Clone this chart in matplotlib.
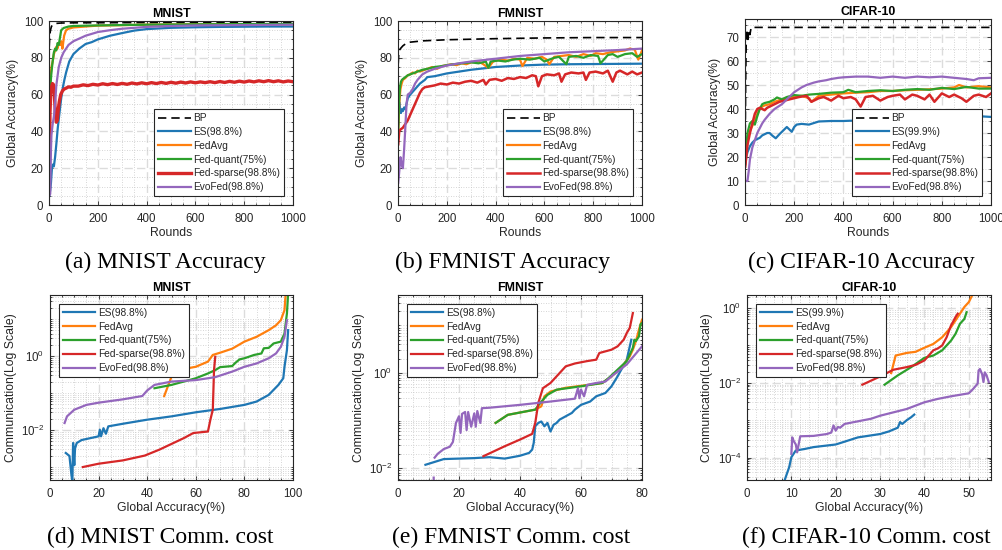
import matplotlib
matplotlib.use("Agg")
import matplotlib.pyplot as plt
import numpy as np
from matplotlib.ticker import MultipleLocator, AutoMinorLocator, FixedLocator, LogLocator, NullFormatter

plt.rcParams["font.family"] = ["Liberation Sans", "DejaVu Sans"]
plt.rcParams["font.size"] = 8.8
plt.rcParams["mathtext.default"] = "regular"

C_ES, C_AVG, C_QUANT, C_SPARSE, C_EVO = "#1f77b4", "#ff7f0e", "#2ca02c", "#d62728", "#9467bd"
TXT = "#262626"

# ---------------- (a) MNIST accuracy vs rounds ----------------
mn_bp_r = [1, 3, 6, 10, 15, 20, 30, 50, 100, 300, 1000]
mn_bp = [86, 92, 95, 97, 98, 98.4, 98.7, 98.9, 99.0, 99.1, 99.2]
mn_es_r = [1, 5, 8, 12, 16, 20, 25, 30, 36, 42, 50, 57, 63, 70, 83, 100, 124, 150, 175, 200,
           250, 302, 350, 400, 500, 600, 700, 800, 900, 1000]
mn_es = [5, 8, 12, 20, 22, 21, 26, 33, 42, 49, 58, 64, 68, 72, 78, 82, 85, 87.5, 88.5, 90,
         92, 93.5, 94.8, 95.6, 96.3, 96.6, 96.8, 96.9, 97.0, 97.0]
mn_avg_r = [1, 3, 6, 10, 15, 20, 25, 30, 35, 40, 45, 50, 55, 58, 62, 70, 80, 100, 150, 200,
            400, 600, 800, 1000]
mn_avg = [40, 55, 68, 75, 78, 82, 84, 86, 85, 88, 87, 89, 85, 88, 92, 95, 95.8, 96.5, 97, 97.5,
          98, 98.2, 98.3, 98.3]
mn_quant_r = [1, 3, 6, 10, 15, 20, 25, 30, 35, 40, 45, 50, 60, 80, 100, 200, 400, 600, 800, 1000]
mn_quant = [12, 50, 65, 72, 78, 83, 85, 84, 88, 87, 91, 95, 96.2, 97, 97.3, 97.6, 98, 98.2, 98.3, 98.4]
mn_sparse_r = [1, 4, 7, 10, 14, 18, 22, 26, 30, 34, 38, 42, 48, 55, 62, 70, 80, 90, 100] + list(range(120, 1001, 20))
mn_sparse = [12, 50, 60, 64, 66, 65.5, 60, 50, 45, 46, 52, 56, 60, 62, 63, 63.5, 64.2, 64, 64.6,
             64.6, 65.3, 64.9, 65.6, 65.2, 65.9, 65.4, 66.0, 65.5, 66.1, 65.6, 66.3, 65.8, 66.4, 65.9,
             66.5, 66.0, 66.6, 66.1, 66.7, 66.2, 66.8, 66.3, 66.9, 66.4, 66.9, 66.5, 67.0, 66.5, 67.1,
             66.6, 67.2, 66.7, 67.3, 66.8, 67.4, 66.9, 67.5, 67.0, 67.6, 67.0, 67.5, 66.9, 67.4, 67.0]
mn_evo_r = [1, 5, 8, 10, 15, 20, 25, 30, 35, 40, 50, 60, 80, 100, 125, 150, 200, 250, 300, 400,
            500, 600, 800, 1000]
mn_evo = [5, 6, 30, 38, 44, 48, 55, 65, 70, 75, 80, 83, 87, 89, 90.5, 92, 94, 95, 95.8, 96.8,
          97.3, 97.6, 97.8, 98]

# ---------------- (b) FMNIST accuracy vs rounds ----------------
fm_bp_r = [1, 3, 5, 10, 20, 35, 50, 100, 200, 300, 400, 600, 800, 1000]
fm_bp = [77, 82, 84, 85, 86.5, 88, 88.5, 89.2, 89.8, 90.1, 90.4, 90.8, 91, 91]
fm_es_r = [1, 3, 5, 8, 12, 16, 20, 25, 30, 35, 40, 50, 60, 70, 80, 90, 100, 110, 120, 150,
           200, 250, 300, 400, 500, 600, 700, 800, 900, 1000]
fm_es = [44, 52, 56, 53, 50, 52, 51, 53, 52, 55, 58, 60, 61.5, 63, 64.5, 66, 67, 68, 69.5, 70,
         71.5, 72.5, 73.5, 75, 75.8, 76.3, 76.5, 76.6, 76.7, 76.8]
fm_sparse_r = [1, 5, 10, 20, 30, 40, 50, 60, 70, 80, 90, 100, 110, 130, 150, 175, 200, 225, 250,
               275, 300, 325, 350, 360, 375, 400, 425, 450, 475, 500, 525, 550, 565, 575, 590,
               610, 640, 660, 670, 685, 710, 740, 760, 770, 785, 810, 840, 860, 880, 895, 910,
               940, 960, 980, 1000]
fm_sparse = [33, 40, 41, 42, 44, 46, 49, 52, 55, 58, 61, 63, 64, 64.5, 65, 66, 65.5, 66.5, 66,
             67, 67.5, 66.5, 68, 65.5, 68, 68.5, 67.5, 69, 68.5, 69.5, 69, 70.5, 70, 64.5, 70,
             71, 70.5, 71.5, 67, 71, 72, 71.5, 72, 68, 72, 72.5, 71.5, 73, 67, 72, 73,
             71, 72.5, 71, 72]
fm_avg_r = [1, 5, 10, 15, 20, 30, 40, 50, 60, 70, 80, 90, 100, 120, 140, 160, 180, 200, 220, 240,
            260, 280, 300, 330, 350, 370, 390, 420, 450, 480, 500, 510, 530, 560, 590, 610, 620,
            640, 670, 700, 730, 760, 790, 810, 840, 870, 900, 930, 950, 970, 985, 1000]
fm_avg = [40, 55, 63, 66, 68, 69, 70.5, 71, 72, 71.5, 73, 72.5, 73, 74, 75, 74, 75.5, 76, 76.5, 76,
          77, 76.5, 77.5, 78, 76.5, 74.5, 78, 79, 78.5, 79.5, 79, 75.5, 80, 79.5, 80.5, 79, 76.5,
          80.5, 81, 81.5, 80.5, 82, 81, 82.5, 82, 83, 83.5, 84, 85, 84.5, 79, 84]
fm_quant_r = [1, 4, 8, 12, 16, 20, 30, 40, 50, 60, 70, 80, 100, 120, 150, 180, 200, 230, 260, 300,
              330, 360, 370, 380, 410, 440, 470, 500, 540, 580, 600, 640, 660, 690, 700, 730, 760,
              790, 820, 830, 860, 880, 900, 930, 960, 980, 1000]
fm_quant = [40, 55, 64, 67, 68, 68.5, 69.5, 70.5, 71, 71.5, 72, 72.5, 73.5, 74, 75, 75.5, 76, 76.5,
            77, 77.5, 77, 78, 74.5, 78, 78.5, 78, 79, 79.5, 79, 80, 78, 80, 80.5, 76.5, 80.5, 81, 80,
            81.5, 81, 77, 81.5, 82, 80.5, 82, 82.5, 80.5, 82]
fm_evo_r = [1, 5, 10, 15, 20, 25, 30, 35, 40, 50, 60, 70, 80, 90, 100, 120, 150, 200, 250, 300,
            400, 500, 600, 700, 800, 900, 1000]
fm_evo = [12, 18, 26, 22, 20, 30, 42, 55, 60, 61, 63, 66, 68, 69.5, 71, 72.5, 74, 75.8, 77, 78,
          79.5, 81, 82, 83, 83.6, 84.2, 85]

# ---------------- (c) CIFAR-10 accuracy vs rounds ----------------
cf_bp_r = [1, 3, 5, 8, 12, 15, 20, 25, 30, 50, 1000]
cf_bp = [30, 55, 68, 72, 69, 73, 71, 74, 74, 74, 74]
cf_es_r = [1, 5, 10, 20, 30, 40, 50, 60, 70, 80, 90, 100, 110, 125, 140, 155, 170, 180, 190, 200,
           210, 230, 260, 300, 350, 400, 450, 500, 550, 600, 650, 700, 750, 800, 850, 900, 950, 1000]
cf_es = [17, 20, 22, 24.5, 26, 27, 27.5, 28, 29, 29.5, 30, 30, 29, 27.8, 29.5, 31, 32.5, 31.5, 30.5,
         32.5, 33.5, 33.8, 33.5, 34.8, 35, 35, 35.2, 35.5, 35.8, 36, 36, 36.2, 36.5, 37, 36.8, 37.2,
         37, 36.7]
cf_sparse_r = [1, 10, 20, 30, 40, 50, 60, 70, 80, 90, 100, 120, 140, 160, 180, 200, 220, 250, 270,
               300, 320, 350, 380, 400, 430, 450, 470, 490, 520, 550, 580, 600, 630, 650, 680, 700,
               730, 750, 770, 800, 830, 850, 880, 900, 930, 950, 980, 1000]
cf_sparse = [16, 25, 30, 34, 38, 40, 40.5, 40, 39.5, 40.5, 41, 42, 43, 43.5, 44, 44.5, 45, 45.5, 43,
             44.5, 45, 43.5, 45.5, 44.5, 45, 44, 41, 45, 45.5, 43.5, 45, 45.5, 46, 44, 46, 45.5, 44,
             46, 43, 46.5, 45, 46, 44.5, 43, 45.5, 46, 45, 46.5]
cf_quant_r = [1, 10, 20, 30, 40, 50, 60, 70, 80, 100, 120, 130, 150, 170, 200, 230, 260, 300, 350,
              400, 420, 450, 500, 550, 600, 650, 700, 750, 800, 850, 900, 950, 1000]
cf_quant = [18, 30, 34, 35, 33.5, 37, 40, 42, 42.5, 43, 44, 44.8, 44, 45, 45.8, 45.5, 46, 46.3,
            46.8, 47, 48, 47, 47.5, 47.8, 47.5, 48, 48.3, 48, 48.8, 48.3, 49.2, 48.5, 48.5]
cf_avg_r = [1, 10, 20, 30, 40, 50, 60, 70, 80, 100, 120, 150, 180, 200, 230, 260, 270, 300, 350,
            400, 450, 500, 550, 600, 650, 700, 750, 800, 850, 870, 900, 950, 1000]
cf_avg = [17, 27, 31, 33, 35, 38, 40, 41, 41.5, 42, 43, 44, 44.5, 45, 45.5, 44.5, 43, 45.5, 46,
          46.5, 46.8, 47, 47.5, 47.5, 47.8, 48, 48.2, 48.5, 49, 50, 49, 49.5, 49]
cf_evo_r = [1, 10, 15, 20, 30, 40, 50, 60, 70, 80, 100, 120, 150, 180, 200, 230, 250, 280, 300,
            330, 350, 380, 400, 450, 500, 550, 600, 650, 700, 750, 800, 850, 900, 930, 950, 1000]
cf_evo = [10, 10, 14, 19, 24, 27, 30, 32, 34, 35.5, 38, 40, 42, 45, 47, 49, 50, 51, 51.5, 52,
          52.5, 53, 53.2, 53.5, 53.5, 53, 53.5, 53, 53.5, 53.2, 53.5, 53, 52.5, 52, 52.8, 53]

# ---------------- (d) MNIST communication (log10) vs accuracy ----------------
d_es_acc = [6.5, 8, 8.8, 9.2, 9.5, 10, 10.3, 11, 13, 20, 20.5, 21, 22, 23, 24, 30, 40, 50, 60,
            70, 80, 85, 90, 94, 96, 96.5, 97.5, 98]
d_es_log = [-2.62, -2.7, -3.2, -3.4, -2.35, -2.95, -2.5, -2.35, -2.27, -2.17, -1.99, -2.17, -1.95,
            -2.1, -1.9, -1.83, -1.72, -1.63, -1.52, -1.43, -1.32, -1.23, -1.05, -0.78, -0.6, -0.29,
            0.16, 0.7]
d_avg_acc = [47, 50, 52, 55, 60, 65, 67, 70, 75, 80, 85, 90, 93, 95, 96.5, 97]
d_avg_log = [-1.08, -0.56, -0.38, -0.35, -0.29, -0.15, 0.03, 0.09, 0.2, 0.39, 0.52, 0.7, 0.83,
             0.97, 1.24, 1.7]
d_quant_acc = [43, 50, 60, 65, 68, 70, 75, 76, 78, 80, 84, 87, 88, 90, 92, 95, 96.5, 97.5, 98]
d_quant_log = [-0.87, -0.78, -0.6, -0.47, -0.38, -0.3, -0.27, -0.2, -0.09, -0.06, 0.03, 0.07,
               0.21, 0.22, 0.34, 0.39, 0.61, 1.15, 1.7]
d_sparse_acc = [13.5, 20, 30, 39, 45, 55, 59, 65, 66, 67, 67.5, 68]
d_sparse_log = [-3.0, -2.91, -2.82, -2.69, -2.53, -2.22, -2.08, -2.04, -1.72, -1.45, -0.38, -0.02]
d_evo_acc = [6, 7, 10, 15, 20, 30, 38, 40, 43, 50, 60, 68, 75, 80, 85, 90, 93, 95, 96.5, 97.5]
d_evo_log = [-1.81, -1.63, -1.45, -1.32, -1.26, -1.17, -1.08, -0.93, -0.78, -0.69, -0.65, -0.57,
             -0.42, -0.29, -0.2, -0.06, 0.07, 0.25, 0.52, 0.97]

# ---------------- (e) FMNIST communication (log10) vs accuracy ----------------
e_es_acc = [9, 15, 25, 30, 35, 40, 43, 44, 44.5, 45, 46, 47, 48, 49, 50, 51, 52, 53, 55, 57, 58,
            60, 63, 65, 68, 70, 72, 75, 76.5]
e_es_log = [-1.93, -1.81, -1.79, -1.77, -1.8, -1.74, -1.68, -1.61, -1.47, -1.12, -1.05, -1.02,
            -1.12, -1.05, -1.23, -1.09, -1.05, -0.98, -0.91, -0.84, -0.77, -0.67, -0.6, -0.49,
            -0.42, -0.28, -0.07, 0.28, 0.7]
e_avg_acc = [32, 36, 45, 47, 48, 50, 55, 60, 67, 70, 72, 74, 76, 77, 78, 79, 80]
e_avg_log = [-1.05, -0.88, -0.77, -0.7, -0.49, -0.39, -0.31, -0.27, -0.21, -0.07, 0.04, 0.18,
             0.35, 0.49, 0.67, 0.91, 1.12]
e_quant_acc = [32, 36, 45, 47, 49, 52, 60, 67, 69, 72, 75, 77, 77.5, 78, 79, 79.5, 80]
e_quant_log = [-1.05, -0.88, -0.77, -0.6, -0.46, -0.35, -0.28, -0.21, -0.11, 0.07, 0.25, 0.53,
               0.7, 0.67, 0.77, 1.02, 1.05]
e_sparse_acc = [28, 35, 40, 44, 45, 46, 47.5, 50, 52, 55, 58, 62, 65, 66, 70, 72, 74, 75, 76, 77]
e_sparse_log = [-1.75, -1.54, -1.4, -1.28, -1.05, -0.63, -0.32, -0.21, -0.07, 0.14, 0.2, 0.25,
                0.28, 0.42, 0.49, 0.56, 0.7, 0.84, 0.95, 1.26]
e_evo_acc = [11.7, 11.7, np.nan, 12, 13, 15, 17, 18, 19, 20, 20.5, 21, 22, 22.5, 23, 24, 25, 25.5,
             26, 27, 27.5, 30, 40, 50, 58, 59, 59.5, 60, 61, 62, 65, 68, 70, 75, 80]
e_evo_log = [-2.4, -2.2, np.nan, -1.78, -1.7, -1.6, -1.55, -1.45, -1.05, -0.91, -1.26, -0.86,
             -0.82, -1.2, -0.82, -1.13, -0.85, -1.13, -0.8, -1.05, -0.74, -0.73, -0.67, -0.6,
             -0.54, -0.32, -0.53, -0.35, -0.49, -0.25, -0.21, -0.18, -0.07, 0.18, 0.56]

# ---------------- (f) CIFAR-10 communication (log10) vs accuracy ----------------
f_es_acc = [8.5, 9.5, 10, 10.5, 11, 13, 15, 20, 25, 30, 32, 34, 34.5, 35, 36, 37, 37.7]
f_es_log = [-4.6, -4.26, -3.99, -3.9, -3.81, -3.77, -3.72, -3.65, -3.46, -3.37, -3.3, -3.2,
            -3.05, -3.1, -3.0, -2.92, -2.85]
f_avg_acc = [32.5, 33.5, 36, 38, 40, 42, 44, 46, 47, 48, 49, 50, 51]
f_avg_log = [-1.74, -1.27, -1.2, -1.17, -1.06, -0.96, -0.78, -0.51, -0.33, -0.15, 0.03, 0.16, 0.4]
f_quant_acc = [31, 34, 37, 40, 42, 44, 45, 46, 47, 48, 49, 49.5]
f_quant_log = [-2.05, -1.8, -1.58, -1.33, -1.27, -1.13, -1.0, -0.87, -0.69, -0.42, -0.29, -0.11]
f_sparse_acc = [26, 30, 33, 36, 38, 40, 42, 43, 44, 45, 46, 46.3, 47, 47.5]
f_sparse_log = [-2.05, -1.83, -1.65, -1.58, -1.52, -1.4, -1.13, -1.08, -1.0, -0.78, -0.46, -0.4,
                -0.24, -0.15]
f_evo_acc = [10, 10.2, 10.5, 11, 11.3, 12, 15, 18, 19, 19.5, 20, 20.5, 21, 22, 25, 28, 30, 33,
             36, 38, 40, 43, 46, 50, 51, 52, 52.2, 52.5, 53, 53.3, 53.6, 54, 54.5]
f_evo_log = [-3.9, -3.46, -3.55, -3.65, -3.86, -3.43, -3.42, -3.37, -3.33, -3.14, -3.28, -3.18,
             -3.2, -3.1, -3.03, -2.96, -2.88, -2.79, -2.7, -2.61, -2.52, -2.43, -2.36, -2.28,
             -2.16, -2.02, -1.67, -1.63, -1.77, -1.98, -1.72, -1.8, -1.98]

captions_top = ["(a) MNIST Accuracy", "(b) FMNIST Accuracy", "(c) CIFAR-10 Accuracy"]
captions_bot = ["(d) MNIST Comm. cost", "(e) FMNIST Comm. cost", "(f) CIFAR-10 Comm. cost"]

W, H = 1002, 550
fig = plt.figure(figsize=(W / 100, H / 100), dpi=100)


def px_axes(x0, x1, y0, y1):
    return fig.add_axes([x0 / W, 1 - y1 / H, (x1 - x0) / W, (y1 - y0) / H])


def style(ax):
    ax.tick_params(which="both", direction="in", top=True, right=True, colors=TXT,
                   labelsize=8.3, width=0.6)
    ax.tick_params(axis="x", which="major", pad=5.5)
    ax.tick_params(axis="y", which="major", pad=4)
    ax.tick_params(which="major", length=3)
    ax.tick_params(which="minor", length=1.5)
    ax.grid(True, which="major", linestyle=(0, (6, 3)), color="#dcdcdc", linewidth=1.0)
    ax.grid(True, which="minor", linestyle=(0, (1, 2)), color="#c8c8c8", linewidth=0.6)
    ax.set_axisbelow(True)
    for s in ax.spines.values():
        s.set_color(TXT)
        s.set_linewidth(0.8)


def legend(ax, labels, loc):
    leg = ax.legend(labels, loc=loc, fontsize=7.3, labelspacing=0.38, handlelength=3.2,
                    handletextpad=0.25, borderpad=0.4, borderaxespad=0.85, fancybox=False,
                    framealpha=1.0, edgecolor="#262626")
    leg.get_frame().set_linewidth(0.8)
    for t in leg.get_texts():
        t.set_color(TXT)


top_boxes = [(49, 293, 21, 205), (398, 642, 21, 205), (745, 991, 19, 205)]
top_data = [
    ("MNIST", (mn_bp_r, mn_bp), (mn_es_r, mn_es), (mn_avg_r, mn_avg), (mn_quant_r, mn_quant),
     (mn_sparse_r, mn_sparse), (mn_evo_r, mn_evo), 100, 20, "ES(98.8%)"),
    ("FMNIST", (fm_bp_r, fm_bp), (fm_es_r, fm_es), (fm_avg_r, fm_avg), (fm_quant_r, fm_quant),
     (fm_sparse_r, fm_sparse), (fm_evo_r, fm_evo), 100, 20, "ES(98.8%)"),
    ("CIFAR-10", (cf_bp_r, cf_bp), (cf_es_r, cf_es), (cf_avg_r, cf_avg), (cf_quant_r, cf_quant),
     (cf_sparse_r, cf_sparse), (cf_evo_r, cf_evo), 77.5, 10, "ES(99.9%)"),
]

for box, d in zip(top_boxes, top_data):
    title, bp, es, avg, quant, sparse, evo, ytop, ystep, es_label = d
    ax = px_axes(*box)
    style(ax)
    ax.plot(*bp, color="black", linestyle=(0, (5, 3)), linewidth=1.2)
    ax.plot(*es, color=C_ES, linewidth=1.6)
    ax.plot(*avg, color=C_AVG, linewidth=1.6)
    ax.plot(*quant, color=C_QUANT, linewidth=1.6)
    ax.plot(*sparse, color=C_SPARSE, linewidth=1.8 if title != "MNIST" else 2.4)
    ax.plot(*evo, color=C_EVO, linewidth=1.6)
    ax.set_xlim(0, 1000)
    ax.set_ylim(0, ytop)
    ax.xaxis.set_major_locator(MultipleLocator(200))
    ax.xaxis.set_minor_locator(AutoMinorLocator(4))
    ax.yaxis.set_major_locator(MultipleLocator(ystep))
    ax.yaxis.set_minor_locator(AutoMinorLocator(4 if ystep == 20 else 2))
    ax.set_title(title, fontsize=8.9, fontweight="bold", pad=3)
    ax.set_xlabel("Rounds", color=TXT, labelpad=2)
    ax.set_ylabel("Global Accuracy(%)", color=TXT, labelpad=4)
    legend(ax, ["BP", es_label, "FedAvg", "Fed-quant(75%)", "Fed-sparse(98.8%)", "EvoFed(98.8%)"],
           "lower right")

bot_boxes = [(50, 293, 295, 480), (398, 642, 295, 480), (747, 991, 295, 480)]
bot_data = [
    ("MNIST", (d_es_acc, d_es_log), (d_avg_acc, d_avg_log), (d_quant_acc, d_quant_log),
     (d_sparse_acc, d_sparse_log), (d_evo_acc, d_evo_log), 100, 20, (-3.35, 1.65), [-2, 0],
     "ES(98.8%)"),
    ("FMNIST", (e_es_acc, e_es_log), (e_avg_acc, e_avg_log), (e_quant_acc, e_quant_log),
     (e_sparse_acc, e_sparse_log), (e_evo_acc, e_evo_log), 80, 20, (-2.25, 1.64), [-2, 0],
     "ES(98.8%)"),
    ("CIFAR-10", (f_es_acc, f_es_log), (f_avg_acc, f_avg_log), (f_quant_acc, f_quant_log),
     (f_sparse_acc, f_sparse_log), (f_evo_acc, f_evo_log), 55, 10, (-4.6, 0.35), [-4, -2, 0],
     "ES(99.9%)"),
]

for box, d in zip(bot_boxes, bot_data):
    title, es, avg, quant, sparse, evo, xmax, xstep, ylog, ymaj, es_label = d
    ax = px_axes(*box)
    ax.set_yscale("log")
    style(ax)
    for (xs, ls), c in zip([es, avg, quant, sparse, evo], [C_ES, C_AVG, C_QUANT, C_SPARSE, C_EVO]):
        ax.plot(xs, 10.0 ** np.array(ls, dtype=float), color=c, linewidth=1.6)
    ax.set_xlim(0, xmax)
    ax.set_ylim(10.0 ** ylog[0], 10.0 ** ylog[1])
    ax.xaxis.set_major_locator(MultipleLocator(xstep))
    ax.xaxis.set_minor_locator(AutoMinorLocator(4 if xstep == 20 else 5))
    ax.yaxis.set_major_locator(FixedLocator([10.0 ** k for k in ymaj]))
    ax.yaxis.set_minor_locator(LogLocator(base=10, subs=np.arange(1, 10), numticks=20))
    ax.yaxis.set_minor_formatter(NullFormatter())
    ax.set_yticklabels([r"$10^{%d}$" % k for k in ymaj])
    ax.set_title(title, fontsize=8.9, fontweight="bold", pad=3)
    ax.set_xlabel("Global Accuracy(%)", color=TXT, labelpad=2)
    ax.set_ylabel("Communication(Log Scale)", color=TXT, labelpad=3)
    legend(ax, [es_label, "FedAvg", "Fed-quant(75%)", "Fed-sparse(98.8%)", "EvoFed(98.8%)"],
           "upper left")

for cap, cx in zip(captions_top, [165, 503, 861]):
    fig.text(cx / W, 1 - 262 / H, cap, ha="center", va="center", fontsize=17,
             family=["Liberation Serif", "DejaVu Serif"])
for cap, cx in zip(captions_bot, [160, 511, 866]):
    fig.text(cx / W, 1 - 537 / H, cap, ha="center", va="center", fontsize=17,
             family=["Liberation Serif", "DejaVu Serif"])

fig.savefig("out.png", dpi=100)
